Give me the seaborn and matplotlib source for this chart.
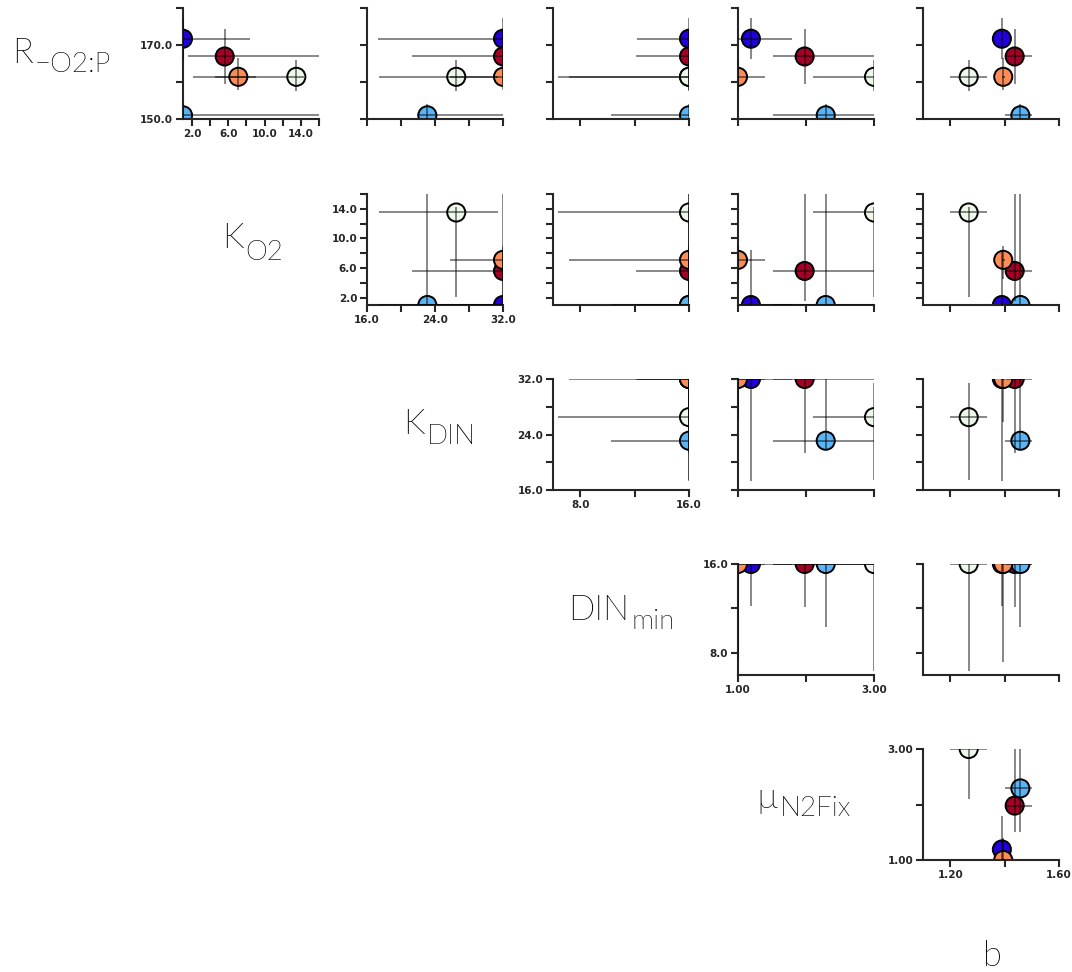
import numpy as np
import pandas as pd
import matplotlib
matplotlib.use('Agg')
import matplotlib.pyplot as plt
import seaborn as sns
from matplotlib import font_manager
from matplotlib.ticker import FixedLocator, FixedFormatter

sns.set_style('ticks')
plt.rcParams['font.family'] = ['Lato', 'DejaVu Sans']

# corridas (5 ajustes) y sus colores
runs = ['run1', 'run2', 'run3', 'run4', 'run5']
colores = ['#2200dd', '#a50026', '#5ab4f5', '#fc8d59', '#eef8ea']

# valor optimo y limites (inferior, superior) de cada parametro
R_val = [171.7, 166.9, 151.0, 161.4, 161.4]
R_lo = [166.3, 159.5, 150.0, 157.9, 157.6]
R_hi = [177.4, 174.2, 154.0, 166.6, 166.0]

KO2_val = [1.0, 5.6, 1.0, 7.1, 13.5]
KO2_lo = [1.0, 1.6, 1.0, 4.5, 2.1]
KO2_hi = [8.4, 16.0, 16.0, 9.0, 14.3]

KDIN_val = [32.0, 32.0, 23.1, 32.0, 26.5]
KDIN_lo = [17.3, 21.3, 21.9, 25.8, 17.4]
KDIN_hi = [32.0, 32.0, 32.0, 32.0, 31.4]

DIN_val = [16.0, 16.0, 16.0, 16.0, 16.0]
DIN_lo = [12.2, 12.1, 10.3, 7.2, 6.4]
DIN_hi = [16.0, 16.0, 16.0, 16.0, 16.0]

mu_val = [1.19, 1.98, 2.29, 1.0, 3.0]
mu_lo = [1.0, 1.51, 1.51, 1.0, 2.1]
mu_hi = [1.79, 3.0, 3.0, 1.39, 3.0]

b_val = [1.390, 1.437, 1.458, 1.395, 1.268]
b_lo = [1.385, 1.405, 1.400, 1.390, 1.200]
b_hi = [1.395, 1.500, 1.500, 1.400, 1.335]

# ejes: nombre, etiqueta (principal + subindice), limites, ticks
nombres = ['R', 'KO2', 'KDIN', 'DIN', 'mu', 'b']
etq_principal = ['R', 'K', 'K', 'DIN', '\u00b5', 'b']
etq_sub = ['\u2212O2:P', 'O2', 'DIN', 'min', 'N2Fix', '']
limites = [(150, 180), (1, 16), (16, 32), (6, 16), (1, 3), (1.1, 1.6)]
ticks = [[150, 160, 170, 180], [2, 4, 6, 8, 10, 12, 14, 16], [16, 20, 24, 28, 32],
         [8, 12, 16], [1, 2, 3], [1.2, 1.4, 1.6]]
tick_labels = [['150.0', '', '170.0', ''],
               ['2.0', '', '6.0', '', '10.0', '', '14.0', ''],
               ['16.0', '', '24.0', '', '32.0'],
               ['8.0', '', '16.0'],
               ['1.00', '', '3.00'],
               ['1.20', '', '1.60']]

data = pd.DataFrame({'run': runs,
                     'R': R_val, 'R_lo': R_lo, 'R_hi': R_hi,
                     'KO2': KO2_val, 'KO2_lo': KO2_lo, 'KO2_hi': KO2_hi,
                     'KDIN': KDIN_val, 'KDIN_lo': KDIN_lo, 'KDIN_hi': KDIN_hi,
                     'DIN': DIN_val, 'DIN_lo': DIN_lo, 'DIN_hi': DIN_hi,
                     'mu': mu_val, 'mu_lo': mu_lo, 'mu_hi': mu_hi,
                     'b': b_val, 'b_lo': b_lo, 'b_hi': b_hi})

fig = plt.figure(figsize=(10.72, 9.72), dpi=100)
W, H = 1072.0, 972.0
col_left = [183, 367, 553, 738, 923]
row_top = [8, 194, 379, 564, 749]
ancho, alto = 136, 111

for i in range(5):
    for j in range(i, 5):
        py = nombres[i]
        px = nombres[j + 1]
        ax = fig.add_axes([col_left[j] / W, 1 - (row_top[i] + alto) / H, ancho / W, alto / H])
        sns.scatterplot(data=data, x=px, y=py, hue='run', palette=colores, s=170,
                        edgecolor='black', linewidth=1.4, legend=False, ax=ax, zorder=2)
        xerr = [data[px] - data[px + '_lo'], data[px + '_hi'] - data[px]]
        yerr = [data[py] - data[py + '_lo'], data[py + '_hi'] - data[py]]
        ax.errorbar(data[px], data[py], xerr=xerr, yerr=yerr, fmt='none',
                    ecolor='black', alpha=0.55, elinewidth=1.2, capsize=0, zorder=3)
        ax.set_xlim(limites[j + 1])
        ax.set_ylim(limites[i])
        ax.xaxis.set_major_locator(FixedLocator(ticks[j + 1]))
        ax.yaxis.set_major_locator(FixedLocator(ticks[i]))
        if i == j:
            ax.xaxis.set_major_formatter(FixedFormatter(tick_labels[j + 1]))
            ax.yaxis.set_major_formatter(FixedFormatter(tick_labels[i]))
        else:
            ax.set_xticklabels([])
            ax.set_yticklabels([])
        ax.set_xlabel('')
        ax.set_ylabel('')
        ax.tick_params(direction='out', length=5, width=1.5, labelsize=7.5, pad=2)
        for lab in ax.get_xticklabels() + ax.get_yticklabels():
            lab.set_fontweight('bold')
            lab.set_family('DejaVu Sans')
        for s in ['left', 'bottom']:
            ax.spines[s].set_linewidth(1.5)
        sns.despine(ax=ax)

# fuente fina para las etiquetas (Lato Light si esta instalada)
archivo_ligero = None
for f in font_manager.fontManager.ttflist:
    nombre_f = f.fname.lower()
    if 'lato' in nombre_f and 'light' in nombre_f and 'italic' not in nombre_f:
        archivo_ligero = f.fname
        break
if archivo_ligero:
    fp_main = font_manager.FontProperties(fname=archivo_ligero, size=25)
    fp_sub = font_manager.FontProperties(fname=archivo_ligero, size=20)
else:
    fp_main = font_manager.FontProperties(family='Lato', size=25)
    fp_sub = font_manager.FontProperties(family='Lato', size=20)

# etiquetas de parametros
renderer = fig.canvas.get_renderer()
pos_etq = [(12, 63), (222, 248), (403, 434), (568, 620), (756, 808), (983, 966)]
bajada = [9, 12, 10, 9, 8, 0]
for k in range(6):
    x0, y0 = pos_etq[k]
    t = fig.text(x0 / W, 1 - y0 / H, etq_principal[k], fontproperties=fp_main,
                 color='black', ha='left', va='baseline')
    if etq_sub[k]:
        bb = t.get_window_extent(renderer=renderer)
        fig.text((bb.x1 + 2) / W, 1 - (y0 + bajada[k]) / H, etq_sub[k],
                 fontproperties=fp_sub, color='black', ha='left', va='baseline')

plt.savefig('out.png', dpi=100)
